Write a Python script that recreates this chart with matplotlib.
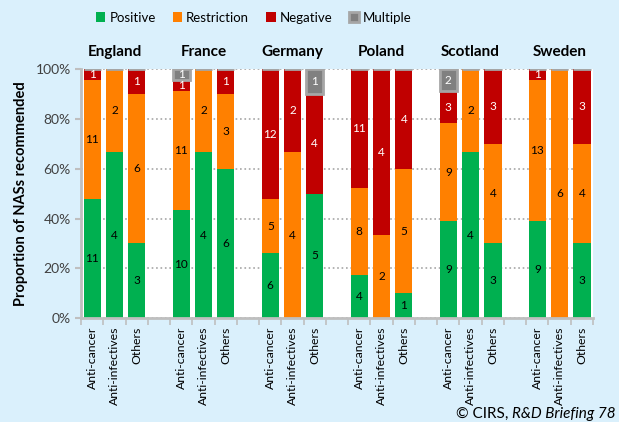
import numpy as np
import matplotlib.pyplot as plt
from matplotlib.ticker import PercentFormatter

plt.rcParams['font.family'] = ['Lato', 'DejaVu Sans']

countries = ['England', 'France', 'Germany', 'Poland', 'Scotland', 'Sweden']
categories = ['Anti-cancer', 'Anti-infectives', 'Others']

# counts per bar, in order country by country (anti-cancer, anti-infectives, others)
positive    = [11, 4, 3,  10, 4, 6,  6, 0, 5,   4, 0, 1,  9, 4, 3,  9, 0, 3]
restriction = [11, 2, 6,  11, 2, 3,  5, 4, 0,   8, 2, 5,  9, 2, 4, 13, 6, 4]
negative    = [1, 0, 1,    1, 0, 1, 12, 2, 4,  11, 4, 4,  3, 0, 3,  1, 0, 3]
multiple    = [0, 0, 0,    1, 0, 0,  0, 0, 1,   0, 0, 0,  2, 0, 0,  0, 0, 0]

series = [('Positive', positive, '#00B050', 'black'),
          ('Restriction', restriction, '#FF8000', 'black'),
          ('Negative', negative, '#C00000', 'white'),
          ('Multiple', multiple, '#808080', 'white')]

bg = '#DAF0FC'
fig = plt.figure(figsize=(6.19, 4.22), dpi=100, facecolor=bg)
ax = fig.add_axes([0.131, 0.246, 0.827, 0.590])
ax.set_facecolor('white')

n = len(countries) * len(categories)
xpos = np.array([4 * (i // 3) + i % 3 for i in range(n)])
totals = np.array(positive) + np.array(restriction) + np.array(negative) + np.array(multiple)

bottom = np.zeros(n)
for name, vals, col, tcol in series:
    frac = np.array(vals) / totals
    if name == 'Multiple':
        ax.bar(xpos, frac, 0.78, bottom=bottom, color=col, edgecolor='#A6A6A6',
               linewidth=2, label=name, zorder=2)
    else:
        ax.bar(xpos, frac, 0.78, bottom=bottom, color=col, label=name, zorder=2)
    for x, v, f, b in zip(xpos, vals, frac, bottom):
        if v > 0:
            ax.text(x, b + f / 2, str(v), ha='center', va='center', fontsize=8.5,
                    color=tcol, zorder=3)
    bottom += frac

ax.set_xlim(-0.5, 22.5)
ax.set_ylim(0, 1)
ax.yaxis.set_major_formatter(PercentFormatter(1.0, decimals=0))
ax.set_yticks([0, 0.2, 0.4, 0.6, 0.8, 1.0])
ax.tick_params(axis='y', labelsize=10, length=4, color='#BFBFBF', width=1.5,
               labelcolor='#404040')
ax.yaxis.grid(True, linestyle=':', color='#A6A6A6', linewidth=1.2, zorder=0)
ax.set_axisbelow(True)

ax.set_xticks(xpos)
ax.set_xticklabels(categories * len(countries), rotation=90, fontsize=8.8)
ax.tick_params(axis='x', length=0, pad=6)
ax.set_xticks(np.arange(-0.5, 23, 1), minor=True)
ax.tick_params(axis='x', which='minor', length=5, color='#BFBFBF', width=1.2)

for s in ['top', 'right']:
    ax.spines[s].set_visible(False)
ax.spines['left'].set_color('#BFBFBF')
ax.spines['left'].set_linewidth(2)
ax.spines['bottom'].set_color('#BFBFBF')
ax.spines['bottom'].set_linewidth(2)

ax.set_ylabel('Proportion of NASs recommended', fontsize=10.5, fontweight='bold', labelpad=5)

for g, c in enumerate(countries):
    ax.text(4 * g + 1, 1.07, c, ha='center', va='center', fontsize=11,
            fontweight='bold', transform=ax.get_xaxis_transform())

fig.legend(loc='center', bbox_to_anchor=(0.41, 0.958), ncol=4, frameon=False,
           fontsize=9.5, handlelength=0.7, handleheight=0.7, handletextpad=0.3,
           columnspacing=1.3)

t = fig.text(0.995, 0.003, 'R&D Briefing 78', ha='right', va='bottom',
             fontsize=11, style='italic')
ax.annotate('\u00a9 CIRS, ', xy=(0, 0), xycoords=t, ha='right', va='bottom',
            fontsize=11, annotation_clip=False)

fig.savefig('out.png', dpi=100, facecolor=bg)
